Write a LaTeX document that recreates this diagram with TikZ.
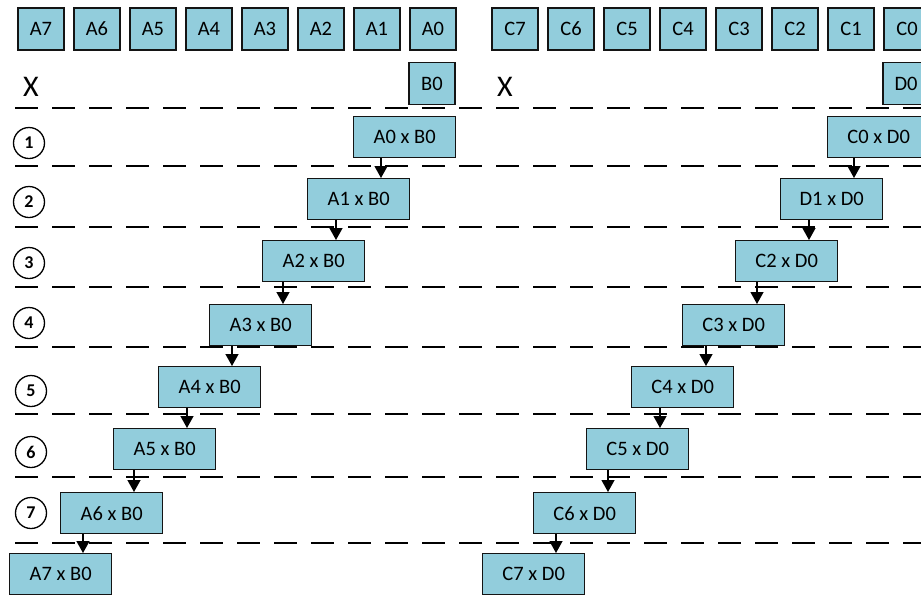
\documentclass[tikz,border=0pt]{standalone}
\usepackage{fontspec}
\setmainfont{Carlito}
\usetikzlibrary{arrows.meta}
\definecolor{boxfill}{RGB}{146,205,220}
\definecolor{edge}{RGB}{20,20,20}
\tikzset{
  cell/.style={draw=edge, fill=boxfill, line width=1.4pt, minimum width=46pt, minimum height=42pt, inner sep=0pt, anchor=center, font=\fontsize{20.5}{24}\selectfont},
  prod/.style={draw=edge, fill=boxfill, line width=1.4pt, minimum width=102pt, minimum height=41pt, inner sep=0pt, anchor=north west, font=\fontsize{20.5}{24}\selectfont},
  stepnum/.style={draw=black, circle, line width=1.3pt, minimum size=31pt, inner sep=0pt, font=\fontsize{18}{20}\selectfont\bfseries},
  bigx/.style={font=\fontsize{30}{34}\selectfont, inner sep=0pt},
  sep/.style={draw=black, line width=1.3pt, dash pattern=on 23pt off 14pt},
  arr/.style={draw=black, line width=1.3pt, -{Triangle[width=13pt,length=12pt]}}
}
\begin{document}
\begin{tikzpicture}[x=1pt,y=-1pt]
\useasboundingbox (0,0) rectangle (921,595);
\clip (0,0) rectangle (921,595);
% dashed separators
\foreach \yy in {108,166,227,287,347,414,477,543}{
  \path[sep] (15,\yy) -- (921,\yy);
}
% step numbers
\node[stepnum] (n1) at (29,143) {1};
\node[stepnum] (n2) at (29,202) {2};
\node[stepnum] (n3) at (29,263) {3};
\node[stepnum] (n4) at (29,323) {4};
\node[stepnum] (n5) at (31,391) {5};
\node[stepnum] (n6) at (31,452) {6};
\node[stepnum] (n7) at (31,513) {7};
% top rows
\foreach \i in {0,...,7}{
  \pgfmathsetmacro{\cx}{433-56*\i}
  \node[cell] (A\i) at (\cx,29) {A\i};
  \pgfmathsetmacro{\dx}{907-56*\i}
  \node[cell] (C\i) at (\dx,29) {C\i};
}
\node[cell] (B0) at (432,83.5) {B0};
\node[cell] (D0) at (906,83.5) {D0};
\node[bigx] (x1) at (31,87) {X};
\node[bigx] (x2) at (505,87) {X};
% left products
\node[prod] (p0) at (353,116) {A0 x B0};
\node[prod] (p1) at (307,178) {A1 x B0};
\node[prod] (p2) at (262,240) {A2 x B0};
\node[prod] (p3) at (209,304) {A3 x B0};
\node[prod] (p4) at (158,366) {A4 x B0};
\node[prod] (p5) at (113,428) {A5 x B0};
\node[prod] (p6) at (60,492) {A6 x B0};
\node[prod] (p7) at (9,553) {A7 x B0};
% right products
\node[prod] (q0) at (827,116) {C0 x D0};
\node[prod] (q1) at (780,178) {D1 x D0};
\node[prod] (q2) at (735,240) {C2 x D0};
\node[prod] (q3) at (682,304) {C3 x D0};
\node[prod] (q4) at (631,366) {C4 x D0};
\node[prod] (q5) at (586,428) {C5 x D0};
\node[prod] (q6) at (533,492) {C6 x D0};
\node[prod] (q7) at (482,553) {C7 x D0};
% arrows
\foreach \a/\b/\o in {p0/p1/28,p1/p2/29,p2/p3/21,p3/p4/23,p4/p5/29,p5/p6/21,p6/p7/23,
                      q0/q1/27,q1/q2/29,q2/q3/22,q3/q4/24,q4/q5/29,q5/q6/22,q6/q7/23}{
  \coordinate (s-\a) at ([xshift=\o pt]\a.south west);
  \draw[arr] (s-\a) -- (s-\a |- \b.north);
}
\end{tikzpicture}
\end{document}
